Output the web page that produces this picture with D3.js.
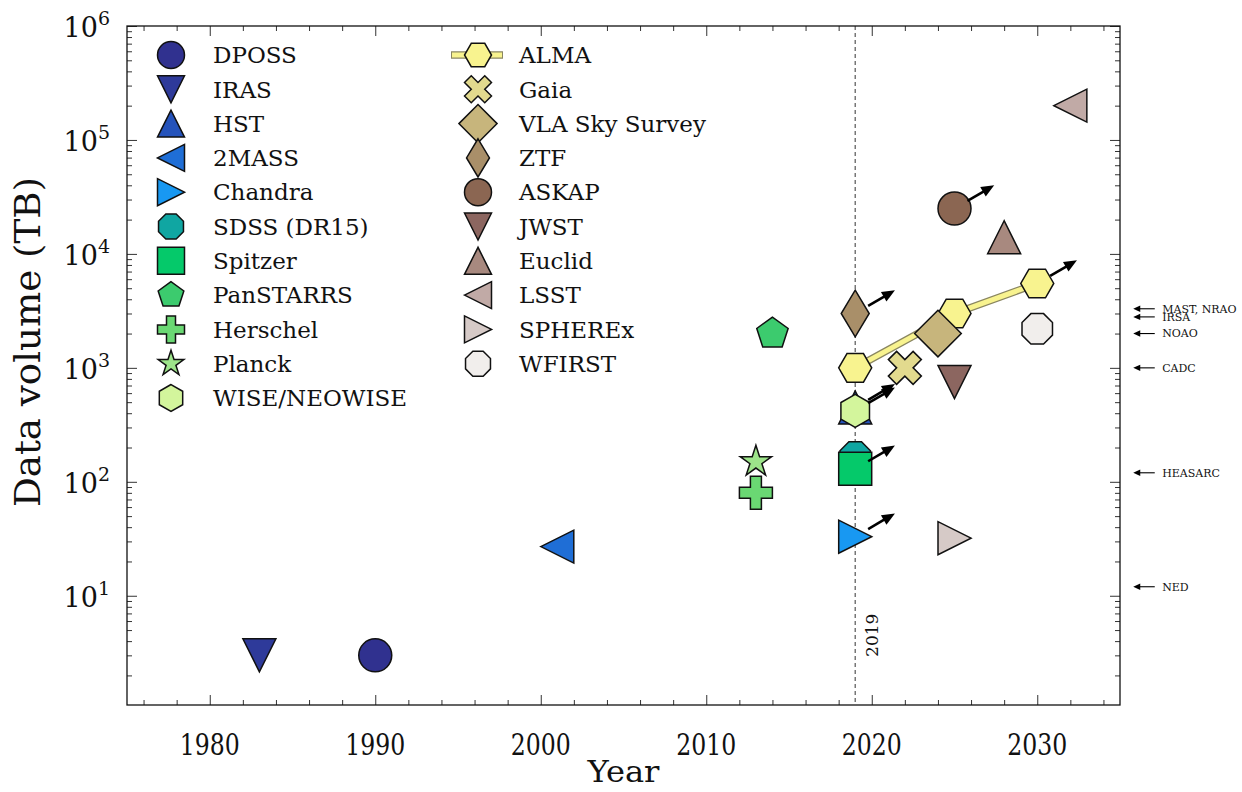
<!DOCTYPE html>
<html>
<head>
<meta charset="utf-8">
<script src="https://cdn.jsdelivr.net/npm/d3@7"></script>
<style>
  body { margin: 0; background: #fff; }
  text { font-family: "DejaVu Serif", serif; fill: #111; }
</style>
</head>
<body>
<div id="chart"></div>
<script>
// ---- data ----
const missions = ["DPOSS", "IRAS", "HST", "2MASS", "Chandra", "SDSS (DR15)", "Spitzer",
  "PanSTARRS", "Herschel", "Planck", "WISE/NEOWISE", "ALMA", "Gaia", "VLA Sky Survey",
  "ZTF", "ASKAP", "JWST", "Euclid", "LSST", "SPHEREx", "WFIRST"];
const years = [[1990], [1983], [2019], [2001], [2019], [2019], [2019],
  [2014], [2013], [2013], [2019], [2019, 2025, 2030], [2022], [2024],
  [2019], [2025], [2025], [2028], [2032], [2025], [2030]];
const volumes = [[3], [3], [450], [27], [33], [165], [130],
  [2000], [80], [150], [420], [1000, 3000, 5500], [1000], [2000],
  [3000], [25000], [750], [14000], [200000], [32], [2200]];
// missions whose volume is still growing (arrow on last point)
const growing = ["HST", "Chandra", "Spitzer", "WISE/NEOWISE", "ALMA", "ZTF", "ASKAP"];

const archives = ["MAST, NRAO", "IRSA", "NOAO", "CADC", "HEASARC", "NED"];
const archiveVolumes = [3300, 2800, 2000, 1000, 120, 12];

const yearTicks = [1980, 1990, 2000, 2010, 2020, 2030];
const volumeTicks = [1e1, 1e2, 1e3, 1e4, 1e5, 1e6];
const nowYear = 2019;

// ---- styles ----
const shapes = ["o", "v", "^", "<", ">", "8", "s", "p", "P", "*", "h",
  "H", "X", "D", "d", "o", "v", "^", "<", ">", "8"];
const colors = ["#30318f", "#2e3a9a", "#2553bb", "#1f6ed6", "#1898f2", "#10a6a2", "#05c96a",
  "#3ccb6e", "#6ad873", "#9de48a", "#d3f59c", "#f8f38f", "#e2da8e", "#c7b57c",
  "#a98f69", "#8b6652", "#8c6660", "#a8897f", "#c1aaa6", "#d6cac7", "#f1eeec"];

const width = 1242, height = 792;
const mLeft = 127, mRight = 1120, mTop = 26, mBottom = 705;

const svg = d3.select("#chart").append("svg")
  .attr("width", width).attr("height", height);

const x = d3.scaleLinear().domain([1975, 2035]).range([mLeft, mRight]);
const y = d3.scaleLog().domain([1.1, 1e6]).range([mBottom, mTop]);

// marker outlines, matplotlib-like
function poly(pts) {
  return "M" + pts.map(p => p[0].toFixed(2) + "," + p[1].toFixed(2)).join("L") + "Z";
}
function regular(n, r, rot) {
  return d3.range(n).map(i => {
    const a = (90 + rot + 360 * i / n) * Math.PI / 180;
    return [r * Math.cos(a), -r * Math.sin(a)];
  });
}
function markerPath(s, ms) {
  const h = ms / 2, q = ms * Math.SQRT1_2;
  switch (s) {
    case "o": return `M${h},0A${h},${h} 0 1,1 ${-h},0A${h},${h} 0 1,1 ${h},0Z`;
    case "v": return poly([[0, h], [-h, -h], [h, -h]]);
    case "^": return poly([[0, -h], [-h, h], [h, h]]);
    case "<": return poly([[-h, 0], [h, -h], [h, h]]);
    case ">": return poly([[h, 0], [-h, -h], [-h, h]]);
    case "s": return poly([[-h, -h], [h, -h], [h, h], [-h, h]]);
    case "p": return poly(regular(5, h, 0));
    case "h": return poly(regular(6, h, 0));
    case "H": return poly(regular(6, h, 30));
    case "8": return poly(regular(8, h, 22.5));
    case "D": return poly([[0, -q], [q, 0], [0, q], [-q, 0]]);
    case "d": return poly([[0, -q], [0.6 * q, 0], [0, q], [-0.6 * q, 0]]);
    case "*": return poly(d3.range(10).map(i => {
      const r = i % 2 ? h * 0.381966 : h, a = (90 + 36 * i) * Math.PI / 180;
      return [r * Math.cos(a), -r * Math.sin(a)];
    }));
    case "P": return poly([[-1, -3], [1, -3], [1, -1], [3, -1], [3, 1], [1, 1], [1, 3], [-1, 3],
      [-1, 1], [-3, 1], [-3, -1], [-1, -1]].map(p => [p[0] * ms / 6, p[1] * ms / 6]));
    case "X": return poly([[-1, -2], [0, -1], [1, -2], [2, -1], [1, 0], [2, 1], [1, 2], [0, 1],
      [-1, 2], [-2, 1], [-1, 0], [-2, -1]].map(p => [p[0] * ms / 4, p[1] * ms / 4]));
  }
}

function arrow(g, x0, y0, x1, y1, opts) {
  const dx = x1 - x0, dy = y1 - y0, len = Math.hypot(dx, dy);
  const ux = dx / len, uy = dy / len;
  const sx = x0 + ux * opts.shrink, sy = y0 + uy * opts.shrink;
  const bx = x1 - ux * opts.head, by = y1 - uy * opts.head;
  g.append("line").attr("x1", sx).attr("y1", sy).attr("x2", bx + ux).attr("y2", by + uy)
    .attr("stroke", "#000").attr("stroke-width", opts.lw);
  const w = opts.headW;
  g.append("path")
    .attr("d", poly([[x1, y1], [bx - uy * w, by + ux * w], [bx + uy * w, by - ux * w]]))
    .attr("fill", "#000");
}

// ---- ticks (inward, all four sides) ----
const minorYears = d3.range(1976, 2035, 2).filter(v => v % 10 !== 0);
const minorVolumes = [];
for (let e = 0; e < 6; e++) for (let k = 2; k <= 9; k++) {
  const v = k * Math.pow(10, e);
  if (v > 1.1 && v < 1e6) minorVolumes.push(v);
}
function addAxis(axis, tx, ty) {
  const g = svg.append("g").attr("transform", `translate(${tx},${ty})`).call(axis);
  g.select(".domain").remove();
  g.selectAll("line").attr("stroke", "#333").attr("stroke-width", 1);
}
[[d3.axisBottom, 0, mBottom, x, yearTicks, minorYears],
 [d3.axisTop, 0, mTop, x, yearTicks, minorYears],
 [d3.axisLeft, mLeft, 0, y, volumeTicks, minorVolumes],
 [d3.axisRight, mRight, 0, y, volumeTicks, minorVolumes]].forEach(([fn, tx, ty, sc, maj, mnr]) => {
  addAxis(fn(sc).tickValues(maj).tickSize(-10).tickFormat(""), tx, ty);
  addAxis(fn(sc).tickValues(mnr).tickSize(-5).tickFormat(""), tx, ty);
});

// tick labels
svg.append("g").selectAll("text").data(yearTicks).join("text")
  .attr("x", d => x(d)).attr("y", 755)
  .attr("text-anchor", "middle").attr("font-size", 30)
  .attr("textLength", 60).attr("lengthAdjust", "spacingAndGlyphs")
  .text(d => d);

const yl = svg.append("g").selectAll("text").data(volumeTicks).join("text")
  .attr("x", 110).attr("y", d => y(d) + 11)
  .attr("text-anchor", "end").attr("font-size", 27);
yl.append("tspan").text("10");
yl.append("tspan").attr("font-size", 19).attr("dy", -12).text(d => Math.round(Math.log10(d)));

// axis titles
svg.append("text").attr("x", (mLeft + mRight) / 2).attr("y", 782)
  .attr("text-anchor", "middle").attr("font-size", 30)
  .attr("textLength", 72).attr("lengthAdjust", "spacingAndGlyphs")
  .text("Year");
svg.append("text").attr("transform", `translate(40,342) rotate(-90)`)
  .attr("text-anchor", "middle").attr("font-size", 35)
  .attr("textLength", 330).attr("lengthAdjust", "spacingAndGlyphs")
  .text("Data volume (TB)");

// ---- plot ----
const plot = svg.append("g");

plot.append("line")
  .attr("x1", x(nowYear)).attr("x2", x(nowYear)).attr("y1", mTop).attr("y2", mBottom)
  .attr("stroke", "#555").attr("stroke-width", 1.2).attr("stroke-dasharray", "4,3");
plot.append("text")
  .attr("transform", `translate(${x(nowYear + 1) + 6},${y(4.5)}) rotate(-90)`)
  .attr("text-anchor", "middle").attr("font-size", 17)
  .text(String(nowYear));

const ms = 33;
const line = d3.line().x(d => x(d[0])).y(d => y(d[1]));
missions.forEach((m, i) => {
  const pts = years[i].map((yr, j) => [yr, volumes[i][j]]);
  if (pts.length > 1) {
    plot.append("path").attr("d", line(pts)).attr("fill", "none")
      .attr("stroke", "#8a8660").attr("stroke-width", 7.5);
    plot.append("path").attr("d", line(pts)).attr("fill", "none")
      .attr("stroke", colors[i]).attr("stroke-width", 5);
  }
  plot.selectAll(null).data(pts).join("path")
    .attr("transform", d => `translate(${x(d[0])},${y(d[1])})`)
    .attr("d", markerPath(shapes[i], ms))
    .attr("fill", colors[i]).attr("stroke", "#111").attr("stroke-width", 1.5)
    .attr("stroke-linejoin", "miter");
});

// growth arrows
const arrows = svg.append("g");
missions.forEach((m, i) => {
  if (!growing.includes(m)) return;
  const n = years[i].length - 1;
  const yr = years[i][n], v = volumes[i][n];
  arrow(arrows, x(yr), y(v), x(yr + 2.4), y(v * 1.6),
    { shrink: 15, head: 13, headW: 5.5, lw: 2.6 });
});

// archive annotations (outside the axes)
const arch = svg.append("g");
archives.forEach((a, i) => {
  const v = archiveVolumes[i];
  arrow(arch, x(2037.1), y(v), x(2035.8), y(v), { shrink: 0, head: 7, headW: 3.2, lw: 1.1 });
  arch.append("text").attr("x", x(2037.55)).attr("y", y(v)).attr("dy", "0.35em")
    .attr("font-size", 11).text(a);
});

// frame
svg.append("rect").attr("x", mLeft).attr("y", mTop)
  .attr("width", mRight - mLeft).attr("height", mBottom - mTop)
  .attr("fill", "none").attr("stroke", "#111").attr("stroke-width", 1.3);

// ---- legend ----
const legend = svg.append("g");
const lms = 27, rowH = 34.3;
missions.forEach((m, i) => {
  const col = i < 11 ? 0 : 1, row = col ? i - 11 : i;
  const mx = col ? 478 : 171, tx = col ? 519 : 213, cy = 55 + row * rowH;
  if (years[i].length > 1) {
    legend.append("line").attr("x1", mx - 27).attr("x2", mx + 25).attr("y1", cy).attr("y2", cy)
      .attr("stroke", "#8a8660").attr("stroke-width", 7.5);
    legend.append("line").attr("x1", mx - 26).attr("x2", mx + 24).attr("y1", cy).attr("y2", cy)
      .attr("stroke", colors[i]).attr("stroke-width", 5);
  }
  legend.append("path").attr("transform", `translate(${mx},${cy})`)
    .attr("d", markerPath(shapes[i], lms))
    .attr("fill", colors[i]).attr("stroke", "#111").attr("stroke-width", 1.5);
  legend.append("text").attr("x", tx).attr("y", cy).attr("dy", "0.36em")
    .attr("font-size", 23).text(m);
});
</script>
</body>
</html>
